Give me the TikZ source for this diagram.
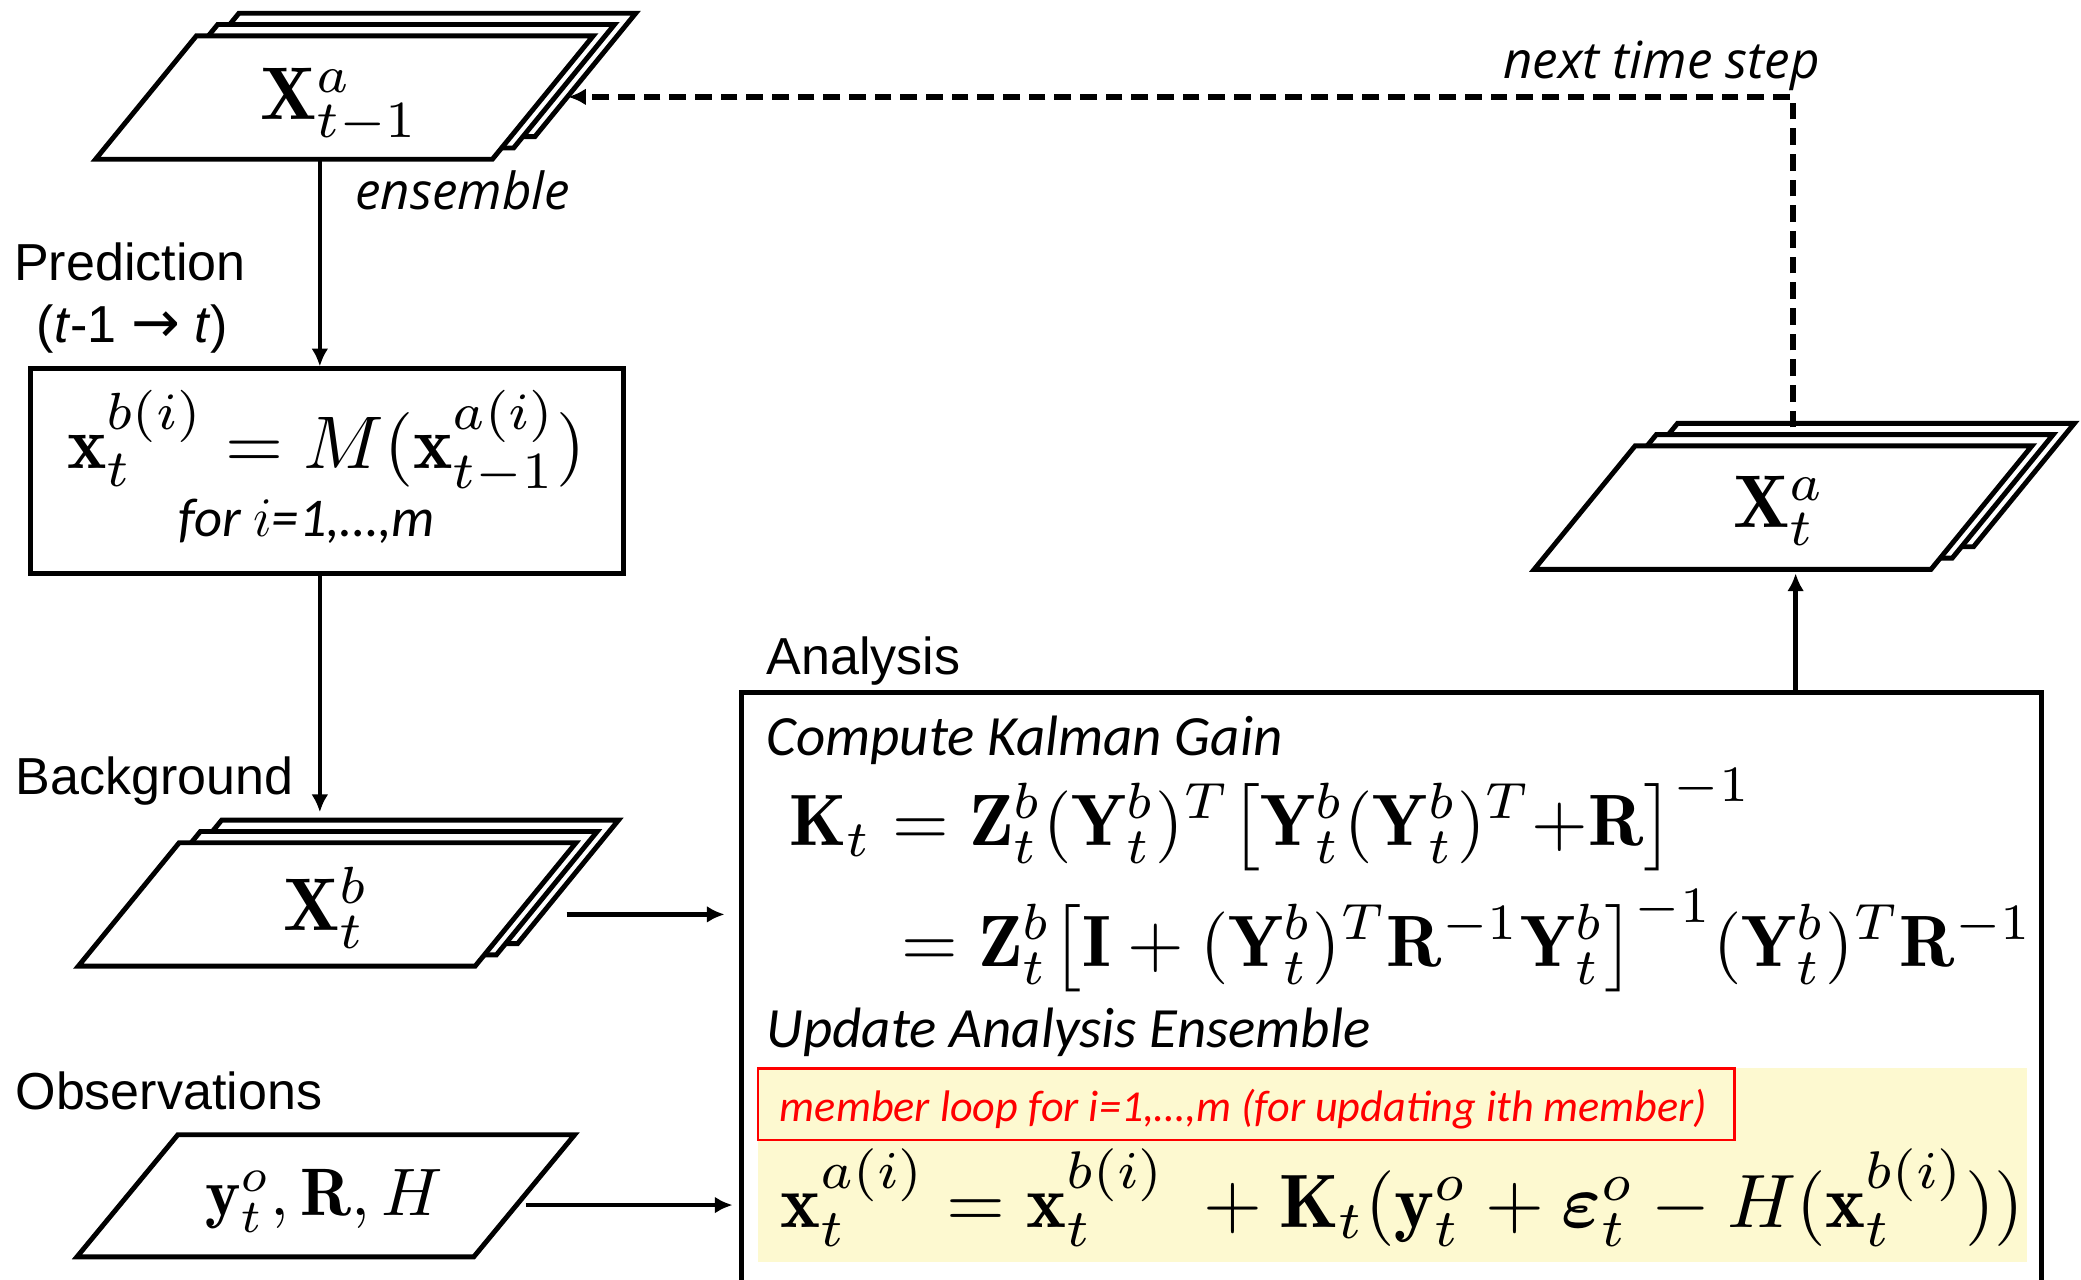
\documentclass[tikz,border=0pt]{standalone}
\usepackage{amsmath,amssymb}
\usepackage{fontspec}
\newfontfamily\arialf{Liberation Sans}
\newfontfamily\segoef{Open Sans}
\newfontfamily\calibf{Carlito}
\newfontfamily\dejaf{DejaVu Sans}
\usetikzlibrary{arrows.meta,calc}
\definecolor{bandyellow}{RGB}{253,249,208}
\newcommand\pstack[2]{%
  \foreach \k in {2,1,0}{%
    \filldraw[pshape] ({#1+\k*16},{#2-\k*8.5}) -- ++(299,0) -- ++(76,-93) -- ++(-299,0) -- cycle;}}
\begin{document}
\begin{tikzpicture}[x=0.01cm,y=-0.01cm,
  pshape/.style={draw=black,fill=white,line width=1.05pt,line join=miter},
  boxline/.style={draw=black,line width=1.05pt},
  arr/.style={line width=0.95pt,-{Latex[length=3.8pt,width=3.6pt]}},
  dasharr/.style={line width=1.15pt,dash pattern=on 3.6pt off 1.9pt,-{Latex[length=3.8pt,width=3.6pt]}},
  mathtxt/.style={inner sep=0pt,font=\fontsize{10}{12}\selectfont,scale=1.6,transform shape},
  bigmath/.style={inner sep=0pt,font=\fontsize{10}{12}\selectfont,scale=1.56,transform shape},
  lab/.style={inner sep=0pt,anchor=base west,font=\arialf\fontsize{11.15}{13}\selectfont},
  seg/.style={inner sep=0pt,anchor=base west,font=\segoef\itshape\fontsize{10.95}{13}\selectfont},
  cal/.style={inner sep=0pt,anchor=base west,font=\calibf\itshape\fontsize{12.2}{14}\selectfont}]
\useasboundingbox (0,0) rectangle (1568,964);
\clip (0,0) rectangle (1568,964);

% ---- top stack X_{t-1}^a
\pstack{72}{120}
\node[mathtxt] (xa1) at (256,80) {$\mathbf{X}_{t-1}^{a}$};
\coordinate (xa1b) at (241,120);
\coordinate (xa1r) at (428,73);
\node[seg] (ens) at (267,158) {ensemble};

% ---- labels
\node[lab] (pred) at (10,211) {Prediction};
\node[lab] (predt) at (27,258) {(\textit{t}-1 {\dejaf\fontsize{12.5}{13}\selectfont →} \textit{t})};

% ---- model box
\node[boxline,inner sep=0pt,minimum width=4.47cm,minimum height=1.54cm] (boxM) at (246.5,355) {};
\node[mathtxt,anchor=base] (mform) at (246,353) {$\mathbf{x}_t^{b(i)} = M(\mathbf{x}_{t-1}^{a(i)})$};
\node[inner sep=0pt,anchor=base,font=\calibf\itshape\fontsize{11.7}{13}\selectfont] (fori) at (231,404) {for $i$=1,…,m};

% ---- background
\node[lab] (bg) at (11,599) {Background};
\pstack{59}{728}
\node[mathtxt] (xb) at (246,684) {$\mathbf{X}_t^{b}$};
\coordinate (xbtop) at (241,612);
\coordinate (xbr) at (427,689);

% ---- observations
\node[lab] (obs) at (11,836) {Observations};
\filldraw[pshape] (58,947) -- ++(299,0) -- ++(76,-92) -- ++(-299,0) -- cycle;
\node[mathtxt,scale=0.9] (yo) at (244,905) {$\mathbf{y}_t^{o},\mathbf{R},H$};
\coordinate (yor) at (396,908);

% ---- analysis box
\node[lab] (anl) at (577,508) {Analysis};
\fill[bandyellow] (571,805) rectangle (1527,951);
\draw[boxline] (559,990) -- (559,522) -- (1538,522) -- (1538,990);
\coordinate (anTop) at (1353,522);
\coordinate (anL1) at (546,689);
\coordinate (anL2) at (552,908);
\node[cal] (ckg) at (577,569) {Compute Kalman Gain};
\node[bigmath,anchor=base west] (k1) at (594,637) {$\mathbf{K}_t = \mathbf{Z}_t^b(\mathbf{Y}_t^b)^T\bigl[\mathbf{Y}_t^b(\mathbf{Y}_t^b)^T{+}\mathbf{R}\bigr]^{-1}$};
\node[bigmath,anchor=base west] (k2) at (678,728) {$= \mathbf{Z}_t^b\bigl[\mathbf{I}+(\mathbf{Y}_t^b)^T\mathbf{R}^{-1}\mathbf{Y}_t^b\bigr]^{-1}(\mathbf{Y}_t^b)^T\mathbf{R}^{-1}$};
\node[cal] (uae) at (577,789) {Update Analysis Ensemble};
\draw[red,line width=0.55pt] (571,805) rectangle (1307,859);
\node[inner sep=0pt,anchor=base west,text=red,font=\calibf\itshape\fontsize{9.47}{11}\selectfont] (loop) at (587,845) {member loop for i=1,…,m (for updating ith member)};
\node[bigmath,scale=1.04,anchor=base west] (upd) at (587,925) {$\mathbf{x}_t^{a(i)} = \mathbf{x}_t^{b(i)} \;+ \mathbf{K}_t(\mathbf{y}_t^o+\boldsymbol{\varepsilon}_t^o-H(\mathbf{x}_t^{b(i)}))$};

% ---- analysis stack X_t^a
\pstack{1156}{429}
\node[mathtxt] (xa) at (1341,385) {$\mathbf{X}_t^{a}$};
\coordinate (xab) at (1353,432);
\coordinate (xatop) at (1351,322);
\coordinate (corner) at (1351,73);
\node[seg] (nts) at (1132,59) {next time step};

% ---- connectors
\draw[arr] (xa1b) -- (xa1b |- boxM.north);
\draw[arr] (xa1b |- boxM.south) -- (xbtop);
\draw[arr] (xbr) -- (anL1);
\draw[arr] (yor) -- (anL2);
\draw[arr] (anTop) -- (xab);
\draw[dasharr] (xatop) -- (corner) -- (xa1r);
\end{tikzpicture}
\end{document}
